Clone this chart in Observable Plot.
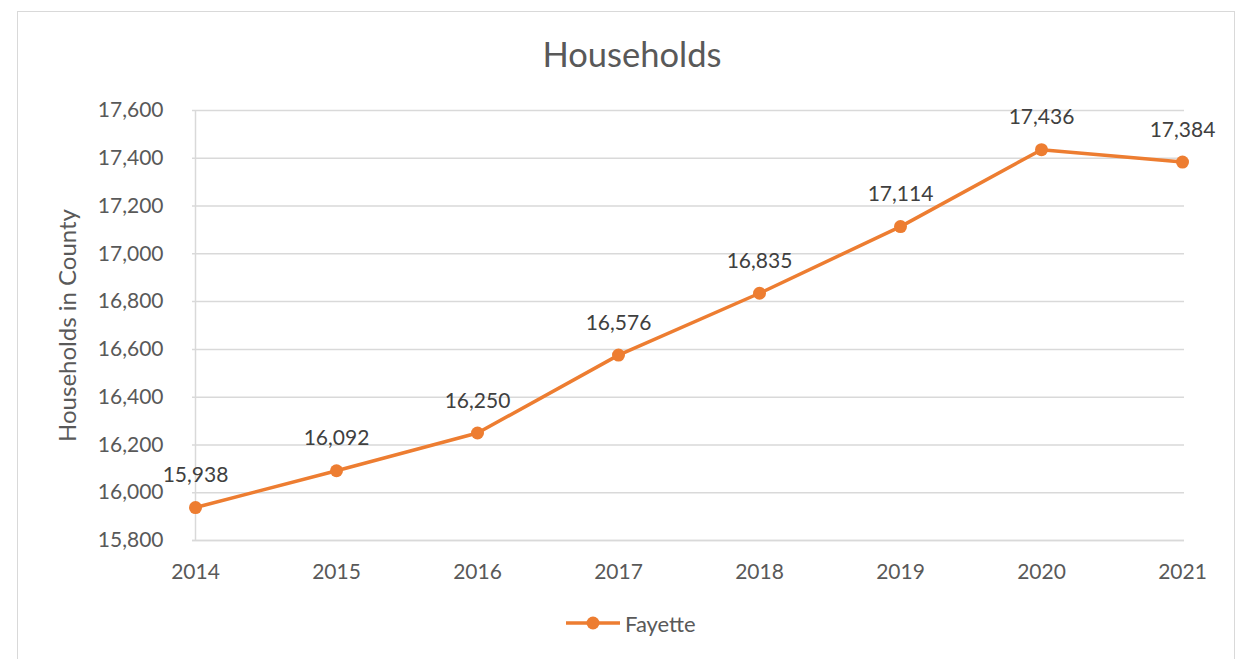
<!DOCTYPE html>
<html>
<head>
<meta charset="utf-8">
<script src="https://cdn.jsdelivr.net/npm/d3@7"></script>
<script src="https://cdn.jsdelivr.net/npm/@observablehq/plot@0.6"></script>
<style>
  html, body { margin: 0; padding: 0; background: #fff; }
  #wrap { position: relative; width: 1239px; height: 659px; overflow: hidden; font-family: Lato, "Noto Sans", sans-serif; }
  #border { position: absolute; left: 17px; top: 11px; width: 1218px; height: 700px; border: 1.5px solid #d9d9d9; box-sizing: border-box; }
  #title { position: absolute; left: 0; width: 1264px; top: 33px; text-align: center; font-size: 34.5px; color: #595959; }
  #chart { position: absolute; left: 0; top: 0; }
  #legend { position: absolute; left: 566px; top: 610px; height: 26px; display: flex; align-items: center; font-size: 22px; color: #595959; }
</style>
</head>
<body>
<div id="wrap">
  <div id="border"></div>
  <div id="chart"></div>
  <div id="title">Households</div>
  <div id="legend"></div>
</div>
<script>
const years = ["2014", "2015", "2016", "2017", "2018", "2019", "2020", "2021"];
const households = [15938, 16092, 16250, 16576, 16835, 17114, 17436, 17384];
const seriesName = "Fayette";
const yTicks = [15800, 16000, 16200, 16400, 16600, 16800, 17000, 17200, 17400, 17600];
const yLabel = "Households in County";

const orange = "#ED7D31";
const data = years.map((y, i) => ({year: y, value: households[i]}));
const fmt = d3.format(",");

const chart = Plot.plot({
  width: 1239,
  height: 600,
  marginLeft: 192,
  marginRight: 55,
  marginTop: 110,
  marginBottom: 60,
  style: {fontFamily: "Lato, 'Noto Sans', sans-serif", fontSize: "21px", color: "#595959", background: "transparent", overflow: "visible"},
  x: {type: "point", domain: years, padding: 0},
  y: {domain: [15800, 17600]},
  marks: [
    Plot.gridY(yTicks, {stroke: "#d9d9d9", strokeOpacity: 1, strokeWidth: 1.5}),
    Plot.ruleX([years[0]], {stroke: "#d9d9d9", strokeWidth: 1.5}),
    Plot.ruleY([15800], {stroke: "#d9d9d9", strokeWidth: 1.5}),
    Plot.axisY(yTicks, {tickSize: 0, tickPadding: 29, tickFormat: fmt, label: null, fill: "#595959"}),
    Plot.axisX(years, {tickSize: 0, tickPadding: 24, label: null, fill: "#595959"}),
    Plot.text([yLabel], {frameAnchor: "left", rotate: -90, dx: -124, fill: "#595959", fontSize: 24, textAnchor: "middle"}),
    Plot.line(data, {x: "year", y: "value", stroke: orange, strokeWidth: 3.5}),
    Plot.dot(data, {x: "year", y: "value", fill: orange, r: 6.5}),
    Plot.text(data, {x: "year", y: "value", text: d => fmt(d.value), dy: -32, fill: "#404040", fontSize: 21})
  ]
});
document.getElementById("chart").appendChild(chart);

// legend
const lg = d3.select("#legend");
const sw = lg.append("svg").attr("width", 56).attr("height", 26).style("margin-right", "3px");
sw.append("line").attr("x1", 0).attr("x2", 54).attr("y1", 13).attr("y2", 13).attr("stroke", orange).attr("stroke-width", 3.5);
sw.append("circle").attr("cx", 27).attr("cy", 13).attr("r", 6.5).attr("fill", orange);
lg.append("span").text(seriesName);
</script>
</body>
</html>
